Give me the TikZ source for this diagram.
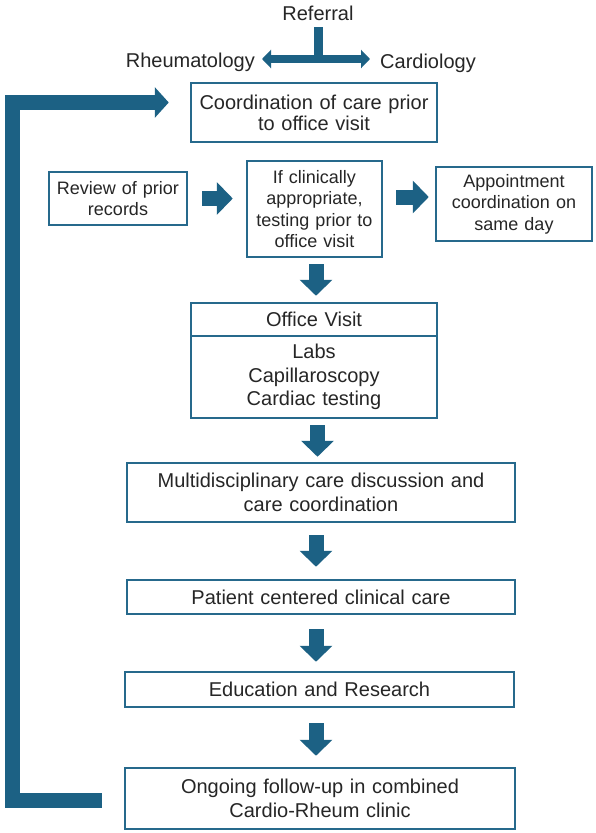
\documentclass[tikz,border=0pt]{standalone}
\usepackage{fontspec}
\setmainfont{Liberation Sans}
\usetikzlibrary{arrows.meta,calc}
\definecolor{cteal}{HTML}{1C6184}
\definecolor{cborder}{HTML}{26698C}
\definecolor{ctext}{HTML}{262626}
\begin{document}
\begin{tikzpicture}[x=1pt,y=-1pt,
  box/.style={draw=cborder, line width=2.5pt, fill=white, text=ctext, align=center,
    inner sep=0pt, font=\fontsize{20pt}{23.5pt}\selectfont},
  sbox/.style={box, font=\fontsize{18pt}{21.6pt}\selectfont},
  lbl/.style={text=ctext, inner sep=0pt, font=\fontsize{20pt}{24pt}\selectfont},
  flow/.style={draw=cteal, line width=15pt, -{Triangle[length=16pt,width=32pt]}},
  loopline/.style={draw=cteal, line width=15pt, -{Triangle[length=14pt,width=30pt]}},
  refline/.style={draw=cteal, line width=9pt},
  refarrow/.style={draw=cteal, line width=8pt,
    {Triangle[length=9pt,width=18pt]}-{Triangle[length=9pt,width=18pt]}},
]
\useasboundingbox (0,0) rectangle (596,833);
\fill[white] (0,0) rectangle (596,833);

% Referral header
\node[lbl, anchor=base] (referral) at (318,20) {Referral};
\node[lbl, anchor=base east] (rheum) at (255,67) {Rheumatology};
\node[lbl, anchor=base west] (cardio) at (380,68) {Cardiology};
\coordinate (split) at (318,59);

% Boxes
\node[box, minimum width=246pt, text width=240pt, minimum height=59pt,
  font=\fontsize{20pt}{21pt}\selectfont] (coord) at (314,112.5)
  {Coordination of care prior\\to office visit};
\node[sbox, minimum width=138pt, text width=134pt, minimum height=53pt] (review) at (118,198.5)
  {Review of prior\\records};
\node[sbox, minimum width=135pt, text width=131pt, minimum height=96pt] (testing) at (314.5,209)
  {If clinically\\appropriate,\\testing prior to\\office visit};
\node[sbox, minimum width=156pt, text width=150pt, minimum height=74pt] (appt) at (514,204)
  {Appointment\\coordination on\\same day};
\node[box, minimum width=246pt, text width=240pt, minimum height=82pt] (tests) at (314,377)
  {Labs\\Capillaroscopy\\Cardiac testing};
\node[box, minimum width=246pt, text width=240pt, minimum height=33pt] (office) at (314,319.5)
  {Office Visit};
\node[box, minimum width=388pt, text width=380pt, minimum height=59pt] (multi) at (321,492.5)
  {Multidisciplinary care discussion and\\care coordination};
\node[box, minimum width=388pt, text width=380pt, minimum height=34pt] (patient) at (321,597)
  {Patient centered clinical care};
\node[box, minimum width=389pt, text width=380pt, minimum height=35pt] (edu) at (319.5,689.5)
  {Education and Research};
\node[box, minimum width=390pt, text width=380pt, minimum height=61pt] (ongoing) at (320,798.5)
  {Ongoing follow-up in combined\\Cardio-Rheum clinic};

% Referral arrows
\draw[refline] ([yshift=-7pt]referral.south) -- (split);
\draw[refarrow] ($(rheum.base east |- split)+(7,0)$) -- ($(cardio.base west |- split)+(-10,0)$);

% Flow arrows
\draw[flow, shorten <=14pt, shorten >=13pt] (review.east) -- (review.east -| testing.west);
\draw[flow, shorten <=13pt, shorten >=6pt] ([yshift=12pt]testing.east) -- ([yshift=12pt]testing.east -| appt.west);
\draw[flow, shorten <=6pt, shorten >=6pt] ([xshift=1.5pt]testing.south) -- ([xshift=1.5pt]testing.south |- office.north);
\draw[flow, shorten <=6pt, shorten >=5pt] ([xshift=3.5pt]tests.south) -- ([xshift=3.5pt]tests.south |- multi.north);
\draw[flow, shorten <=12pt, shorten >=12pt] ([xshift=-5pt]multi.south) -- ([xshift=-5pt]multi.south |- patient.north);
\draw[flow, shorten <=14pt, shorten >=9pt] ([xshift=-5pt]patient.south) -- ([xshift=-5pt]patient.south |- edu.north);
\draw[flow, shorten <=15pt, shorten >=11pt] ([xshift=-3.5pt]edu.south) -- ([xshift=-3.5pt]edu.south |- ongoing.north);

% Feedback loop
\draw[loopline] ([xshift=-22pt,yshift=-2pt]ongoing.west) -| (12.5,102.5) -- ([xshift=-21pt,yshift=10pt]coord.west);
\end{tikzpicture}
\end{document}
